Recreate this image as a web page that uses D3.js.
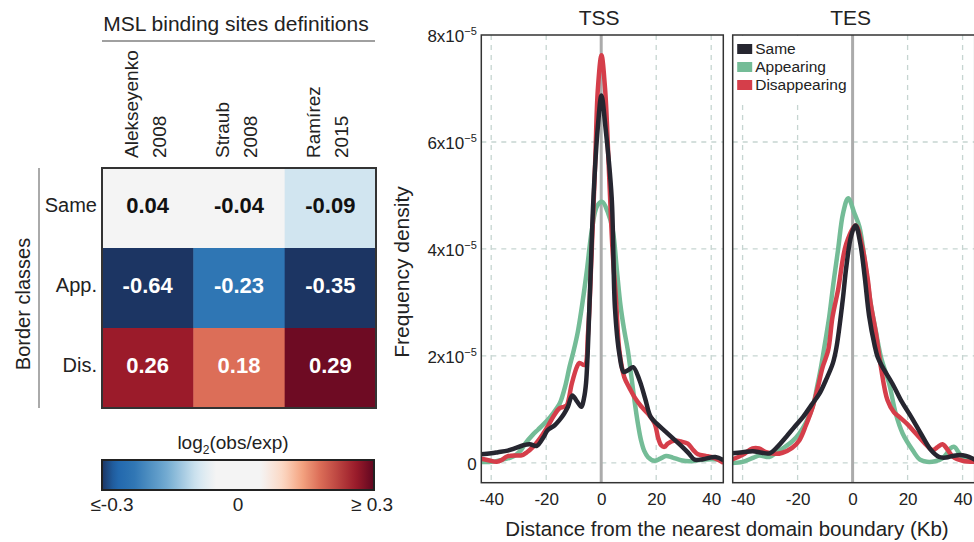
<!DOCTYPE html>
<html>
<head>
<meta charset="utf-8">
<script src="https://cdn.jsdelivr.net/npm/d3@7"></script>
<style>
  body { margin: 0; background: #fff; }
  svg { display: block; font-family: "Liberation Sans", Arial, sans-serif; }
</style>
</head>
<body>
<svg id="chart" width="974" height="542"></svg>
<script>
// ---- heatmap data ----
var methods = [["Alekseyenko", "2008"], ["Straub", "2008"], ["Ramírez", "2015"]];
var borderClasses = ["Same", "App.", "Dis."];
var log2Ratio = [
  [0.04, -0.04, -0.09],
  [-0.64, -0.23, -0.35],
  [0.26, 0.18, 0.29]
];
var colorbarTicks = [-0.3, 0, 0.3];
var colorbarLabels = ["≤-0.3", "0", "≥ 0.3"];

// ---- density curves, [distance (Kb), density (x1e-5)] ----
var seriesNames = ["Same", "Appearing", "Disappearing"];
var tssSame = [[-44,0.16],[-40,0.18],[-37.5,0.2],[-34,0.23],[-31.5,0.27],[-28.3,0.33],[-26,0.35],[-23.4,0.32],[-21,0.48],[-19.5,0.61],[-17,0.7],[-15.2,0.8],[-13.5,0.92],[-12.1,1.05],[-10.5,1.26],[-8.8,1.15],[-7.2,1.05],[-6.3,1.2],[-5.5,1.5],[-4.2,3.04],[-2.8,4.97],[-1.2,6.3],[0.1,6.87],[1.5,6.3],[3.8,4.97],[5,2.9],[6.6,2.04],[8.2,1.7],[10,1.74],[11.6,1.79],[13.9,1.55],[16,1.2],[18,0.86],[20.5,0.72],[23.5,0.58],[26.5,0.44],[29.5,0.3],[31.8,0.18],[34,0.06],[37,0.07],[41.5,0.11],[44.5,0.05]];
var tssAppearing = [[-44,0.02],[-40,0.02],[-36,0.06],[-33,0.1],[-31,0.15],[-29,0.25],[-27.5,0.37],[-25,0.52],[-23,0.62],[-21,0.72],[-18.5,0.86],[-16.5,1.0],[-15,1.12],[-13,1.45],[-11.5,1.8],[-10,2.1],[-8.5,2.45],[-6.8,3.0],[-5.2,3.6],[-3.4,4.35],[-1.5,4.8],[0.4,4.88],[2.3,4.7],[4.2,4.35],[5.7,3.6],[7,2.95],[8.3,2.5],[9.7,2.1],[11,1.6],[12.1,1.17],[13.3,0.75],[14.5,0.42],[15.7,0.22],[17,0.11],[19.4,0.04],[21.5,0.08],[23.6,0.13],[26,0.1],[29,0.05],[32,0.03],[35,0.05],[40,0.07],[44.5,0.06]];
var tssDisappearing = [[-44,0.08],[-41,0.05],[-38,0.02],[-36,0.06],[-34.3,0.12],[-31,0.14],[-29,0.14],[-27,0.2],[-24.8,0.3],[-22,0.48],[-19.6,0.67],[-17,0.9],[-15.2,1.02],[-13.5,1.05],[-12.5,1.08],[-10.7,1.48],[-8.8,1.8],[-7.9,1.87],[-6,1.83],[-4.8,2.42],[-3.5,3.9],[-2.2,5.6],[-1.2,7.0],[0.1,7.62],[1.4,7.0],[2.7,5.6],[4.1,4.0],[5.4,3.04],[6.6,2.1],[8.4,1.6],[10.5,1.38],[12.1,1.23],[14.5,1.06],[17,0.92],[19.4,0.74],[20.8,0.45],[21.8,0.33],[23,0.3],[24.2,0.36],[26.7,0.42],[29,0.4],[31.5,0.36],[33.5,0.24],[35.2,0.16],[38,0.13],[40,0.11],[42.5,0.06],[44.5,0]];
var tesSame = [[-44,0.18],[-40,0.2],[-36.3,0.22],[-33,0.19],[-30.2,0.18],[-27,0.32],[-24.1,0.49],[-21,0.68],[-18,0.86],[-15,1.08],[-12,1.3],[-9.7,1.55],[-7.2,1.86],[-5.9,2.15],[-3.6,3.04],[-2.3,3.66],[-0.5,4.25],[1.1,4.44],[2.8,4.1],[4.4,3.48],[6,2.75],[8,2.2],[9.1,1.98],[10.9,1.79],[14.5,1.48],[17.6,1.17],[21.3,0.86],[24.8,0.55],[28.5,0.24],[31.5,0.11],[34,0.1],[36.4,0.13],[39,0.15],[41.2,0.13],[44.5,0.06]];
var tesAppearing = [[-44,0],[-40,0.02],[-36,0.1],[-33.9,0.14],[-30.3,0.11],[-28,0.18],[-25.5,0.27],[-22,0.4],[-19.4,0.55],[-17,0.75],[-14.5,1.05],[-13,1.4],[-11.5,1.79],[-10,2.25],[-8.5,2.73],[-7,3.35],[-5.3,3.98],[-3.5,4.66],[-1.6,4.95],[0.7,4.66],[2.5,4.41],[4.5,3.75],[6.5,3.0],[8.5,2.45],[10.3,1.98],[13.3,1.48],[15.7,0.92],[18.2,0.55],[21.8,0.24],[24.5,0.06],[27,0.02],[30,0.03],[32.5,0.08],[34,0.16],[35.5,0.27],[37,0.3],[38.5,0.2],[40,0.1],[44.5,0.05]];
var tesDisappearing = [[-44,0.06],[-40,0.15],[-36.4,0.27],[-34,0.27],[-31.5,0.2],[-28,0.17],[-25.5,0.19],[-22,0.28],[-19.4,0.42],[-17,0.7],[-14.5,1.05],[-12.7,1.4],[-10.9,1.79],[-8.9,2.1],[-7.3,2.73],[-5.3,3.23],[-2.3,4.1],[1.1,4.44],[3.5,4.05],[5.6,3.4],[6.5,3.0],[8.5,2.42],[10.3,1.79],[12.7,1.17],[15,0.95],[17,0.86],[20,0.72],[23,0.55],[26,0.38],[29.1,0.24],[31,0.3],[32.7,0.35],[34.5,0.25],[36.4,0.12],[40,0.04],[44.5,0.02]];

var panelNames = ["TSS", "TES"];
var xTicks = [-40, -20, 0, 20, 40];
var yTicks = [0, 2, 4, 6, 8];

var lineColors = { Same: "#262630", Appearing: "#74bc97", Disappearing: "#d53e4a" };

var svg = d3.select("#chart");

// =================== heatmap ===================
var hx = d3.scaleBand().domain(d3.range(methods.length)).range([102, 376]);
var hy = d3.scaleBand().domain(d3.range(borderClasses.length)).range([168, 408]);

var color = d3.scaleLinear()
  .domain([-0.3, -0.27, -0.23, -0.16, -0.09, -0.05, 0.05, 0.1, 0.14, 0.18, 0.26, 0.3])
  .range(["#1c3563", "#2166ac", "#2f76b4", "#6fa9d0", "#d1e5f0", "#f4f4f4", "#f4f4f4", "#fcd7c2", "#f4a582", "#dc6e58", "#9b1b2a", "#5f0620"])
  .clamp(true);

var cells = [];
log2Ratio.forEach(function (row, r) {
  row.forEach(function (v, c) { cells.push({ r: r, c: c, v: v }); });
});

svg.append("g").selectAll("rect").data(cells).enter().append("rect")
  .attr("x", function (d) { return hx(d.c); })
  .attr("y", function (d) { return hy(d.r); })
  .attr("width", hx.bandwidth() + 0.5)
  .attr("height", hy.bandwidth() + 0.5)
  .attr("fill", function (d) { return color(d.v); });

svg.append("g").selectAll("text").data(cells).enter().append("text")
  .attr("x", function (d) { return hx(d.c) + hx.bandwidth() / 2; })
  .attr("y", function (d) { return hy(d.r) + hy.bandwidth() / 2 - 3; })
  .attr("dy", "0.36em")
  .attr("text-anchor", "middle")
  .attr("font-size", 22)
  .attr("font-weight", "bold")
  .attr("fill", function (d) { return Math.abs(d.v) > 0.12 ? "#fff" : "#111"; })
  .text(function (d) { return d.v.toFixed(2); });

svg.append("rect")
  .attr("x", 102).attr("y", 168).attr("width", 274).attr("height", 240)
  .attr("fill", "none").attr("stroke", "#333").attr("stroke-width", 2);

// column labels
var colLab = svg.append("g").selectAll("text").data(methods).enter().append("text")
  .attr("transform", function (d, i) { return "translate(" + (hx(i) + hx.bandwidth() / 2) + ",158) rotate(-90)"; })
  .attr("font-size", 19)
  .attr("fill", "#222");
colLab.append("tspan").attr("x", 0).attr("y", -10).text(function (d) { return d[0]; });
colLab.append("tspan").attr("x", 0).attr("y", 18).text(function (d) { return d[1]; });

svg.append("text").attr("x", 236).attr("y", 31).attr("text-anchor", "middle")
  .attr("font-size", 21).attr("fill", "#222").text("MSL binding sites definitions");
svg.append("line").attr("x1", 102).attr("x2", 375).attr("y1", 41).attr("y2", 41)
  .attr("stroke", "#a0a0a0").attr("stroke-width", 2);

// row labels
svg.append("g").selectAll("text").data(borderClasses).enter().append("text")
  .attr("x", 97)
  .attr("y", function (d, i) { return hy(i) + hy.bandwidth() / 2 - 3; })
  .attr("dy", "0.36em")
  .attr("text-anchor", "end")
  .attr("font-size", 20)
  .attr("fill", "#222")
  .text(function (d) { return d; });

svg.append("text").attr("transform", "translate(30,304) rotate(-90)")
  .attr("text-anchor", "middle").attr("font-size", 20).attr("fill", "#222")
  .text("Border classes");
svg.append("line").attr("x1", 39).attr("x2", 39).attr("y1", 168).attr("y2", 408)
  .attr("stroke", "#aaa").attr("stroke-width", 2);

// colorbar
var cb = d3.scaleLinear().domain([-0.3, 0.3]).range([102, 374]);
var grad = svg.append("defs").append("linearGradient").attr("id", "cbgrad");
d3.range(0, 1.0001, 0.02).forEach(function (t) {
  grad.append("stop").attr("offset", (t * 100) + "%")
    .attr("stop-color", color(-0.3 + 0.6 * t));
});
svg.append("rect").attr("x", 102).attr("y", 460).attr("width", 272).attr("height", 30)
  .attr("fill", "url(#cbgrad)").attr("stroke", "#222").attr("stroke-width", 2);

var cbTitle = svg.append("text").attr("x", 233).attr("y", 449)
  .attr("text-anchor", "middle").attr("font-size", 19).attr("fill", "#222");
cbTitle.append("tspan").text("log");
cbTitle.append("tspan").attr("font-size", 12).attr("dy", 5).text("2");
cbTitle.append("tspan").attr("dy", -5).text("(obs/exp)");

var cbDx = [10, 0, -2];
svg.append("g").selectAll("text").data(colorbarTicks).enter().append("text")
  .attr("x", function (d, i) { return cb(d) + cbDx[i]; })
  .attr("y", 511)
  .attr("text-anchor", "middle")
  .attr("font-size", 19)
  .attr("fill", "#222")
  .text(function (d, i) { return colorbarLabels[i]; });

// =================== density panels ===================
var y = d3.scaleLinear().domain([-0.37, 8]).range([482.7, 35]);
var panelLefts = [481.3, 732.7];
var panelW = 242;
var panelSeries = [
  [tssSame, tssAppearing, tssDisappearing],
  [tesSame, tesAppearing, tesDisappearing]
];
var drawOrder = [1, 2, 0];

panelNames.forEach(function (name, p) {
  var left = panelLefts[p];
  var x = d3.scaleLinear().domain([-43.6, 44.4]).range([left, left + panelW]);
  var g = svg.append("g");

  g.append("clipPath").attr("id", "clip" + p).append("rect")
    .attr("x", left).attr("y", y.range()[1]).attr("width", panelW).attr("height", y.range()[0] - y.range()[1]);

  // grid
  g.selectAll(".hgrid").data(yTicks.filter(function (t) { return t < 8; })).enter().append("line")
    .attr("x1", left).attr("x2", left + panelW)
    .attr("y1", function (d) { return y(d); }).attr("y2", function (d) { return y(d); })
    .attr("stroke", "#c6d5d1").attr("stroke-width", 1.3).attr("stroke-dasharray", "5,5");
  g.selectAll(".vgrid").data(xTicks.filter(function (t) { return t !== 0; })).enter().append("line")
    .attr("x1", function (d) { return x(d); }).attr("x2", function (d) { return x(d); })
    .attr("y1", y.range()[1]).attr("y2", y.range()[0])
    .attr("stroke", "#c6d5d1").attr("stroke-width", 1.3).attr("stroke-dasharray", "5,5");

  // legend background hides the grid
  if (p === 1) {
    g.append("rect").attr("x", left + 1).attr("y", 36).attr("width", 115).attr("height", 64).attr("fill", "#fff");
  }

  g.append("line").attr("x1", x(0)).attr("x2", x(0))
    .attr("y1", y.range()[1]).attr("y2", y.range()[0])
    .attr("stroke", "#ababab").attr("stroke-width", 3);

  var line = d3.line()
    .x(function (d) { return x(d[0]); })
    .y(function (d) { return y(d[1]); })
    .curve(d3.curveCatmullRom.alpha(0.5));

  drawOrder.forEach(function (s) {
    g.append("path").datum(panelSeries[p][s])
      .attr("clip-path", "url(#clip" + p + ")")
      .attr("d", line)
      .attr("fill", "none")
      .attr("stroke", lineColors[seriesNames[s]])
      .attr("stroke-width", 4.5)
      .attr("stroke-linejoin", "round");
  });

  g.append("rect").attr("x", left).attr("y", y.range()[1])
    .attr("width", panelW).attr("height", y.range()[0] - y.range()[1])
    .attr("fill", "none").attr("stroke", "#333").attr("stroke-width", 1.5);

  g.append("text").attr("x", x(0) - 2).attr("y", 25).attr("text-anchor", "middle")
    .attr("font-size", 21).attr("fill", "#222").text(name);

  // x axis
  var xa = g.append("g").attr("transform", "translate(0," + y.range()[0] + ")")
    .call(d3.axisBottom(x).tickValues(xTicks).tickSize(0).tickPadding(10.5)
      .tickFormat(function (d) { return String(d); }));
  xa.select(".domain").remove();
  xa.selectAll("text").attr("font-size", 17).attr("fill", "#222")
    .attr("font-family", "\"Liberation Sans\", Arial, sans-serif");

  // y axis
  if (p === 0) {
    var ya = g.append("g").attr("transform", "translate(" + left + ",0)")
      .call(d3.axisLeft(y).tickValues(yTicks).tickSize(0).tickPadding(4.5));
    ya.select(".domain").remove();
    ya.selectAll("text")
      .attr("font-size", 17).attr("fill", "#222")
      .attr("font-family", "\"Liberation Sans\", Arial, sans-serif")
      .attr("dy", "0.36em")
      .each(function (d) {
        var t = d3.select(this).text("");
        if (d === 0) { t.text("0"); return; }
        t.append("tspan").text(d + "x10");
        t.append("tspan").attr("font-size", 11).attr("dy", -7).text("−5");
      });
  }

  // legend
  if (p === 1) {
    var lg = g.append("g").selectAll("g").data(seriesNames).enter().append("g")
      .attr("transform", function (d, i) { return "translate(" + (left + 4.5) + "," + (54 + i * 18) + ")"; });
    lg.append("rect").attr("x", 0).attr("y", -10).attr("width", 15).attr("height", 10)
      .attr("fill", function (d) { return lineColors[d]; });
    lg.append("text").attr("x", 18).attr("y", 0).attr("font-size", 15.5).attr("fill", "#222")
      .text(function (d) { return d; });
  }
});

svg.append("text").attr("transform", "translate(409,272) rotate(-90)")
  .attr("text-anchor", "middle").attr("font-size", 21).attr("fill", "#222")
  .text("Frequency density");
svg.append("text").attr("x", 727).attr("y", 536).attr("text-anchor", "middle")
  .attr("font-size", 20.5).attr("fill", "#222")
  .text("Distance from the nearest domain boundary (Kb)");
</script>
</body>
</html>
